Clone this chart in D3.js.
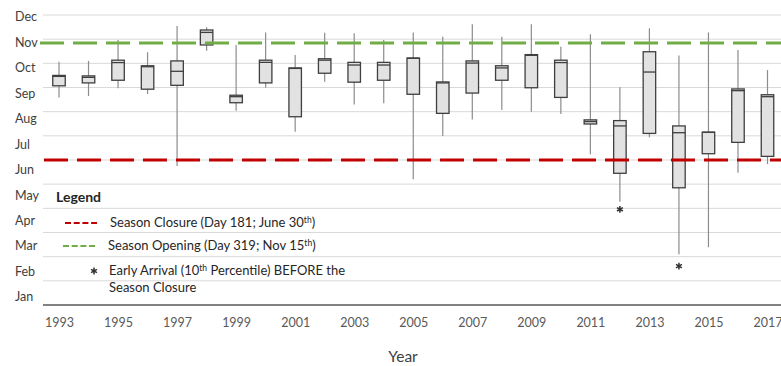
<!DOCTYPE html>
<html>
<head>
<meta charset="utf-8">
<script src="https://cdn.jsdelivr.net/npm/d3@7"></script>
<style>
  body { margin: 0; background: #fff; }
  svg { display: block; font-family: Lato, 'Open Sans', sans-serif; }
</style>
</head>
<body>
<div id="chart"></div>
<script>
// values are in chart units: 0 = start of Jan (baseline), 12 = top gridline
var years = [1993, 1994, 1995, 1996, 1997, 1998, 1999, 2000, 2001, 2002, 2003, 2004,
  2005, 2006, 2007, 2008, 2009, 2010, 2011, 2012, 2013, 2014, 2015, 2016, 2017];
var whiskerMax = [10.07, 10.10, 10.97, 10.46, 11.55, 11.49, 10.76, 11.28, 10.34, 11.27, 11.24, 10.97,
  11.28, 11.10, 11.62, 11.10, 11.62, 10.69, 11.20, 9.01, 11.45, 10.32, 11.28, 10.55, 9.72];
var boxQ3 = [9.50, 9.48, 10.13, 9.90, 10.10, 11.38, 8.68, 10.13, 9.81, 10.19, 10.04, 10.04,
  10.22, 9.23, 10.10, 9.90, 10.36, 10.13, 7.66, 7.63, 10.48, 7.41, 7.15, 8.94, 8.70];
var boxMedian = [9.46, 9.42, 10.03, 9.86, 9.67, 11.28, 8.62, 10.04, 9.79, 10.13, 9.93, 9.93,
  10.21, 9.19, 10.01, 9.81, 10.33, 10.03, 7.59, 7.41, 9.64, 7.13, 7.15, 8.87, 8.62];
var boxQ1 = [9.07, 9.19, 9.30, 8.93, 9.09, 10.76, 8.37, 9.19, 7.79, 9.59, 9.22, 9.30,
  8.72, 7.93, 8.77, 9.30, 8.99, 8.59, 7.49, 5.45, 7.10, 4.85, 6.26, 6.73, 6.15];
var whiskerMin = [8.59, 8.65, 8.97, 8.73, 5.75, 10.52, 8.04, 8.99, 7.17, 9.24, 8.30, 8.35,
  5.20, 6.99, 7.68, 8.07, 8.00, 7.90, 6.24, 4.27, 6.94, 2.10, 2.39, 5.47, 5.83];

var earlyYears = [2012, 2014];
var earlyValues = [3.96, 1.61];

var closureLine = 6.0;
var openingLine = 10.84;

var months = ['Jan', 'Feb', 'Mar', 'Apr', 'May', 'Jun', 'Jul', 'Aug', 'Sep', 'Oct', 'Nov', 'Dec'];
var yearTicks = [1993, 1995, 1997, 1999, 2001, 2003, 2005, 2007, 2009, 2011, 2013, 2015, 2017];

var width = 781;
var height = 366;
var plotLeft = 43;
var boxW = 12.5;

var x = d3.scaleLinear().domain([1993, 2017]).range([59, 767.5]);
var y = d3.scaleLinear().domain([0, 12]).range([305, 15]);
// month labels sit on their own spacing, not on the gridlines
var labelY = d3.scaleLinear().domain([0, 11]).range([297, 17]);

var svg = d3.select('#chart').append('svg')
  .attr('width', width)
  .attr('height', height);

// gridlines
svg.append('g').selectAll('line')
  .data(d3.range(1, 13))
  .enter().append('line')
  .attr('x1', plotLeft).attr('x2', width)
  .attr('y1', function (d) { return y(d); })
  .attr('y2', function (d) { return y(d); })
  .attr('stroke', '#d9d9d9')
  .attr('stroke-width', 1);

// month labels
svg.append('g').selectAll('text')
  .data(months)
  .enter().append('text')
  .attr('x', 15)
  .attr('y', function (d, i) { return labelY(i); })
  .attr('dy', '0.35em')
  .attr('font-size', 12.5)
  .attr('fill', '#404040')
  .text(function (d) { return d; });

// x axis
var xAxis = d3.axisBottom(x)
  .tickValues(yearTicks)
  .tickFormat(d3.format('d'))
  .tickSize(0)
  .tickPadding(13);

var gx = svg.append('g')
  .attr('transform', 'translate(0,' + y(0) + ')')
  .call(xAxis);
gx.select('.domain').remove();
gx.selectAll('text')
  .attr('font-family', 'Lato, sans-serif')
  .attr('font-size', 12.5)
  .attr('fill', '#595959');

svg.append('line')
  .attr('x1', plotLeft).attr('x2', width)
  .attr('y1', y(0)).attr('y2', y(0))
  .attr('stroke', '#595959')
  .attr('stroke-width', 1.5);

svg.append('text')
  .attr('x', 403)
  .attr('y', 362)
  .attr('text-anchor', 'middle')
  .attr('font-size', 15.5)
  .attr('fill', '#404040')
  .text('Year');

// box plots
var rows = years.map(function (yr, i) {
  return { year: yr, max: whiskerMax[i], q3: boxQ3[i], med: boxMedian[i], q1: boxQ1[i], min: whiskerMin[i] };
});

var boxes = svg.append('g').selectAll('g')
  .data(rows)
  .enter().append('g');

boxes.append('line')
  .attr('x1', function (d) { return x(d.year); })
  .attr('x2', function (d) { return x(d.year); })
  .attr('y1', function (d) { return y(d.max); })
  .attr('y2', function (d) { return y(d.min); })
  .attr('stroke', '#8c8c8c')
  .attr('stroke-width', 1.2);

boxes.append('rect')
  .attr('x', function (d) { return x(d.year) - boxW / 2; })
  .attr('width', boxW)
  .attr('y', function (d) { return y(d.q3); })
  .attr('height', function (d) { return y(d.q1) - y(d.q3); })
  .attr('fill', '#e2e2e2')
  .attr('stroke', '#3f3f3f')
  .attr('stroke-width', 1.3);

boxes.append('line')
  .attr('x1', function (d) { return x(d.year) - boxW / 2; })
  .attr('x2', function (d) { return x(d.year) + boxW / 2; })
  .attr('y1', function (d) { return y(d.med); })
  .attr('y2', function (d) { return y(d.med); })
  .attr('stroke', '#3f3f3f')
  .attr('stroke-width', 1.3);

// early arrivals
var star = d3.symbol().type(d3.symbolAsterisk).size(32);
svg.append('g').selectAll('path')
  .data(earlyYears)
  .enter().append('path')
  .attr('d', star)
  .attr('transform', function (d, i) { return 'translate(' + x(d) + ',' + y(earlyValues[i]) + ')'; })
  .attr('fill', 'none')
  .attr('stroke', '#333')
  .attr('stroke-width', 1.5);

// season lines
svg.append('line')
  .attr('x1', 40).attr('x2', width)
  .attr('y1', y(openingLine)).attr('y2', y(openingLine))
  .attr('stroke', '#70ad47')
  .attr('stroke-width', 3)
  .attr('stroke-dasharray', '24,9');

svg.append('line')
  .attr('x1', 44).attr('x2', width)
  .attr('y1', y(closureLine)).attr('y2', y(closureLine))
  .attr('stroke', '#c00000')
  .attr('stroke-width', 3)
  .attr('stroke-dasharray', '24,9');

// legend
var legend = svg.append('g').attr('font-size', 13).attr('fill', '#262626');

legend.append('text')
  .attr('x', 56).attr('y', 197).attr('dy', '0.35em')
  .attr('font-weight', 'bold')
  .attr('font-size', 14)
  .text('Legend');

legend.append('line')
  .attr('x1', 65).attr('x2', 97)
  .attr('y1', 223).attr('y2', 223)
  .attr('stroke', '#c00000').attr('stroke-width', 2)
  .attr('stroke-dasharray', '6,2.7');

legend.append('line')
  .attr('x1', 63).attr('x2', 97)
  .attr('y1', 246).attr('y2', 246)
  .attr('stroke', '#70ad47').attr('stroke-width', 2)
  .attr('stroke-dasharray', '6,2.7');

legend.append('path')
  .attr('d', star)
  .attr('transform', 'translate(94,271)')
  .attr('fill', 'none')
  .attr('stroke', '#333')
  .attr('stroke-width', 1.5);

function supText(sel, parts) {
  parts.forEach(function (p) {
    var t = sel.append('tspan').text(p[0]);
    if (p[1]) t.attr('font-size', 8.5).attr('dy', -4.5);
    else if (p[2]) t.attr('dy', 4.5);
  });
}

supText(legend.append('text').attr('x', 110).attr('y', 227),
  [['Season Closure (Day 181; June 30'], ['th', true], [')', false, true]]);
supText(legend.append('text').attr('x', 108).attr('y', 250),
  [['Season Opening (Day 319; Nov 15'], ['th', true], [')', false, true]]);
supText(legend.append('text').attr('x', 109).attr('y', 275),
  [['Early Arrival (10'], ['th', true], [' Percentile) BEFORE the', false, true]]);
legend.append('text').attr('x', 109).attr('y', 292).text('Season Closure');
</script>
</body>
</html>
